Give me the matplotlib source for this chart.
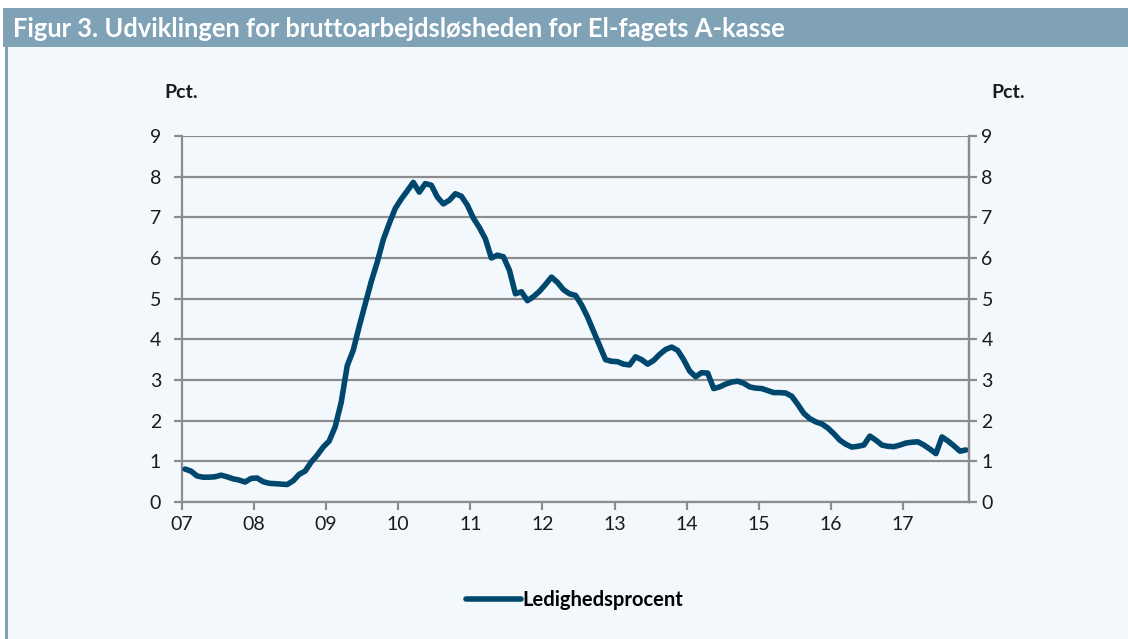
import numpy as np
import matplotlib
matplotlib.use("Agg")
import matplotlib.pyplot as plt
from matplotlib.patches import Rectangle
from matplotlib.lines import Line2D

plt.rcParams["font.family"] = ["Lato", "DejaVu Sans"]

TITLE = "Figur 3. Udviklingen for bruttoarbejdsløsheden for El-fagets A-kasse"
SERIES = "Ledighedsprocent"
YEAR_LABELS = ["07", "08", "09", "10", "11", "12", "13", "14", "15", "16", "17"]

# monthly gross unemployment, Jan 2007 - Nov 2017 (pct.)
rate_2007 = [0.81, 0.76, 0.64, 0.61, 0.61, 0.62, 0.66, 0.62, 0.57, 0.54, 0.49, 0.58]
rate_2008 = [0.59, 0.50, 0.46, 0.45, 0.44, 0.43, 0.52, 0.68, 0.76, 0.98, 1.15, 1.35]
rate_2009 = [1.50, 1.85, 2.45, 3.35, 3.73, 4.32, 4.87, 5.42, 5.90, 6.45, 6.85, 7.22]
rate_2010 = [7.45, 7.65, 7.86, 7.62, 7.83, 7.79, 7.50, 7.33, 7.42, 7.58, 7.52, 7.30]
rate_2011 = [6.98, 6.75, 6.47, 6.00, 6.07, 6.03, 5.70, 5.12, 5.17, 4.95, 5.05, 5.18]
rate_2012 = [5.35, 5.53, 5.40, 5.22, 5.12, 5.08, 4.85, 4.55, 4.20, 3.85, 3.50, 3.46]
rate_2013 = [3.45, 3.39, 3.37, 3.57, 3.50, 3.39, 3.48, 3.63, 3.75, 3.81, 3.73, 3.50]
rate_2014 = [3.22, 3.08, 3.18, 3.17, 2.79, 2.83, 2.90, 2.95, 2.97, 2.92, 2.83, 2.80]
rate_2015 = [2.79, 2.74, 2.69, 2.69, 2.68, 2.60, 2.40, 2.18, 2.05, 1.97, 1.92, 1.82]
rate_2016 = [1.68, 1.52, 1.42, 1.35, 1.37, 1.40, 1.62, 1.52, 1.40, 1.37, 1.36, 1.40]
rate_2017 = [1.45, 1.47, 1.48, 1.40, 1.30, 1.19, 1.60, 1.50, 1.38, 1.25, 1.28]

rate = (rate_2007 + rate_2008 + rate_2009 + rate_2010 + rate_2011 + rate_2012
        + rate_2013 + rate_2014 + rate_2015 + rate_2016 + rate_2017)

LINE = "#00476e"
GRID = "#8c8c8c"
BAR = "#7fa2b7"
PANEL = "#f3f8fd"
TXT = "#1a1a1a"

fig = plt.figure(figsize=(11.28, 6.39), dpi=100, facecolor="white")

# panel background, title bar and left border
fig.patches.append(Rectangle((0.004, 0), 0.996, 1 - 46 / 639, transform=fig.transFigure,
                             facecolor=PANEL, edgecolor="none", zorder=-2))
fig.patches.append(Rectangle((3 / 1128, 1 - 47 / 639), 1, 39 / 639, transform=fig.transFigure,
                             facecolor=BAR, edgecolor="none", zorder=-1))
fig.patches.append(Rectangle((5 / 1128, 0), 3 / 1128, 1 - 46 / 639, transform=fig.transFigure,
                             facecolor=BAR, edgecolor="none", zorder=-1))
fig.text(13 / 1128, 1 - 29 / 639, TITLE, color="white", fontsize=18.4,
         fontweight="bold", va="center", ha="left")

ax = fig.add_axes([182 / 1128, 1 - 502 / 639, 787 / 1128, 366 / 639])
ax.set_zorder(5)
ax.set_facecolor(PANEL)
x = np.arange(len(rate)) + 0.5
ax.plot(x, rate, color=LINE, lw=4.0, solid_capstyle="round", solid_joinstyle="round",
        zorder=3)

ax.set_xlim(0, len(rate))
ax.set_ylim(0, 9)
ax.set_yticks(range(0, 10))
ax.set_xticks(np.arange(len(YEAR_LABELS)) * 12)
ax.set_xticklabels(YEAR_LABELS)
ax.grid(axis="y", color=GRID, lw=1.6, zorder=1)
ax.set_axisbelow(True)
for s in ["left", "right", "bottom"]:
    ax.spines[s].set_color(GRID)
    ax.spines[s].set_linewidth(1.6)
ax.spines["top"].set_visible(False)
ax.tick_params(axis="y", left=True, right=False, labelleft=True, labelright=False,
               length=6, width=1.6, color=GRID, labelsize=14, labelcolor=TXT,
               direction="out", pad=9)
ax.tick_params(axis="x", length=6, width=1.6, color=GRID, labelsize=14,
               labelcolor=TXT, direction="out", pad=4)

# right-hand copy of the pct. axis
ax2 = ax.twinx()
ax2.set_ylim(ax.get_ylim())
ax2.set_yticks(range(0, 10))
for s in ["left", "top", "bottom"]:
    ax2.spines[s].set_visible(False)
ax2.spines["right"].set_color(GRID)
ax2.spines["right"].set_linewidth(1.6)
ax2.tick_params(axis="y", length=6, width=1.6, color=GRID, labelsize=14,
                labelcolor=TXT, direction="out", pad=3)

fig.text(181 / 1128, 1 - 92 / 639, "Pct.", fontsize=14, fontweight="bold",
         ha="center", va="center", color=TXT)
fig.text(1008 / 1128, 1 - 92 / 639, "Pct.", fontsize=14, fontweight="bold",
         ha="center", va="center", color=TXT)

handle = Line2D([], [], color=LINE, lw=4.0, solid_capstyle="round")
fig.legend([handle], [SERIES], loc="center", bbox_to_anchor=(575 / 1128, 1 - 600 / 639),
           frameon=False, prop={"weight": "bold", "size": 14.5}, handlelength=2.7,
           handletextpad=0.1)

fig.savefig("out.png", dpi=100, facecolor="white")
